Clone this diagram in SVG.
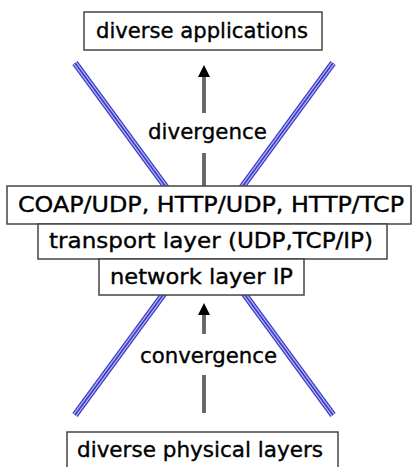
<svg xmlns="http://www.w3.org/2000/svg" width="413" height="467" viewBox="0 0 413 467">
  <style>
    .box { fill: #ffffff; stroke: #444444; stroke-width: 1.5; }
    .lbl { font-family: "DejaVu Sans", "Noto Sans", sans-serif; font-size: 21px; fill: #000000; stroke: #000000; stroke-width: 0.35; }
    .band-a { stroke: #3a3acc; stroke-width: 6.5; fill: none; }
    .band-b { stroke: #b8b8ee; stroke-width: 4; fill: none; }
    .band-c { stroke: #3a3acc; stroke-width: 1.6; fill: none; }
    .shaft-a { stroke: #111111; stroke-width: 3.2; fill: none; }
    .shaft-b { stroke: #a0a0a0; stroke-width: 1.2; fill: none; }
    .head { fill: #000000; }
  </style>

  <rect width="413" height="467" fill="#ffffff"/>

  <!-- crossing bands behind the layer boxes, plus the two vertical arrows -->
  <g id="connectors">
    <g id="band-left">
      <line class="band-a" x1="75" y1="63" x2="333" y2="415"/>
      <line class="band-b" x1="75" y1="63" x2="333" y2="415"/>
      <line class="band-c" x1="75" y1="63" x2="333" y2="415"/>
    </g>
    <g id="band-right">
      <line class="band-a" x1="333" y1="63" x2="75" y2="415"/>
      <line class="band-b" x1="333" y1="63" x2="75" y2="415"/>
      <line class="band-c" x1="333" y1="63" x2="75" y2="415"/>
    </g>
    <g id="arrow-up-top">
      <line class="shaft-a" x1="204" y1="76" x2="204" y2="113"/>
      <line class="shaft-b" x1="204" y1="76" x2="204" y2="113"/>
      <line class="shaft-a" x1="204" y1="153" x2="204" y2="186"/>
      <line class="shaft-b" x1="204" y1="153" x2="204" y2="186"/>
      <polygon class="head" points="204,65 210,77 198,77"/>
    </g>
    <g id="arrow-up-bottom">
      <line class="shaft-a" x1="204" y1="315" x2="204" y2="334"/>
      <line class="shaft-b" x1="204" y1="315" x2="204" y2="334"/>
      <line class="shaft-a" x1="204" y1="375" x2="204" y2="413"/>
      <line class="shaft-b" x1="204" y1="375" x2="204" y2="413"/>
      <polygon class="head" points="204,303 210,315 198,315"/>
    </g>
  </g>

  <g id="apps">
    <rect class="box" x="84" y="12" width="238" height="38"/>
    <text class="lbl" x="96" y="38" textLength="212" lengthAdjust="spacingAndGlyphs">diverse applications</text>
  </g>

  <g id="divergence">
    <text class="lbl" x="148" y="139" textLength="119" lengthAdjust="spacingAndGlyphs">divergence</text>
  </g>

  <g id="app-protocols">
    <rect class="box" x="7" y="186" width="404" height="38"/>
    <text class="lbl" x="18" y="212" textLength="386" lengthAdjust="spacingAndGlyphs">COAP/UDP, HTTP/UDP, HTTP/TCP</text>
  </g>

  <g id="transport">
    <rect class="box" x="38" y="224" width="349" height="35"/>
    <text class="lbl" x="49" y="248" textLength="324" lengthAdjust="spacingAndGlyphs">transport layer (UDP,TCP/IP)</text>
  </g>

  <g id="network">
    <rect class="box" x="99" y="259" width="205" height="36"/>
    <text class="lbl" x="110" y="284" textLength="183" lengthAdjust="spacingAndGlyphs">network layer IP</text>
  </g>

  <g id="convergence">
    <text class="lbl" x="140" y="363" textLength="137" lengthAdjust="spacingAndGlyphs">convergence</text>
  </g>

  <g id="physical">
    <rect class="box" x="67" y="432" width="271" height="40"/>
    <text class="lbl" x="77" y="457" textLength="246" lengthAdjust="spacingAndGlyphs">diverse physical layers</text>
  </g>
</svg>
